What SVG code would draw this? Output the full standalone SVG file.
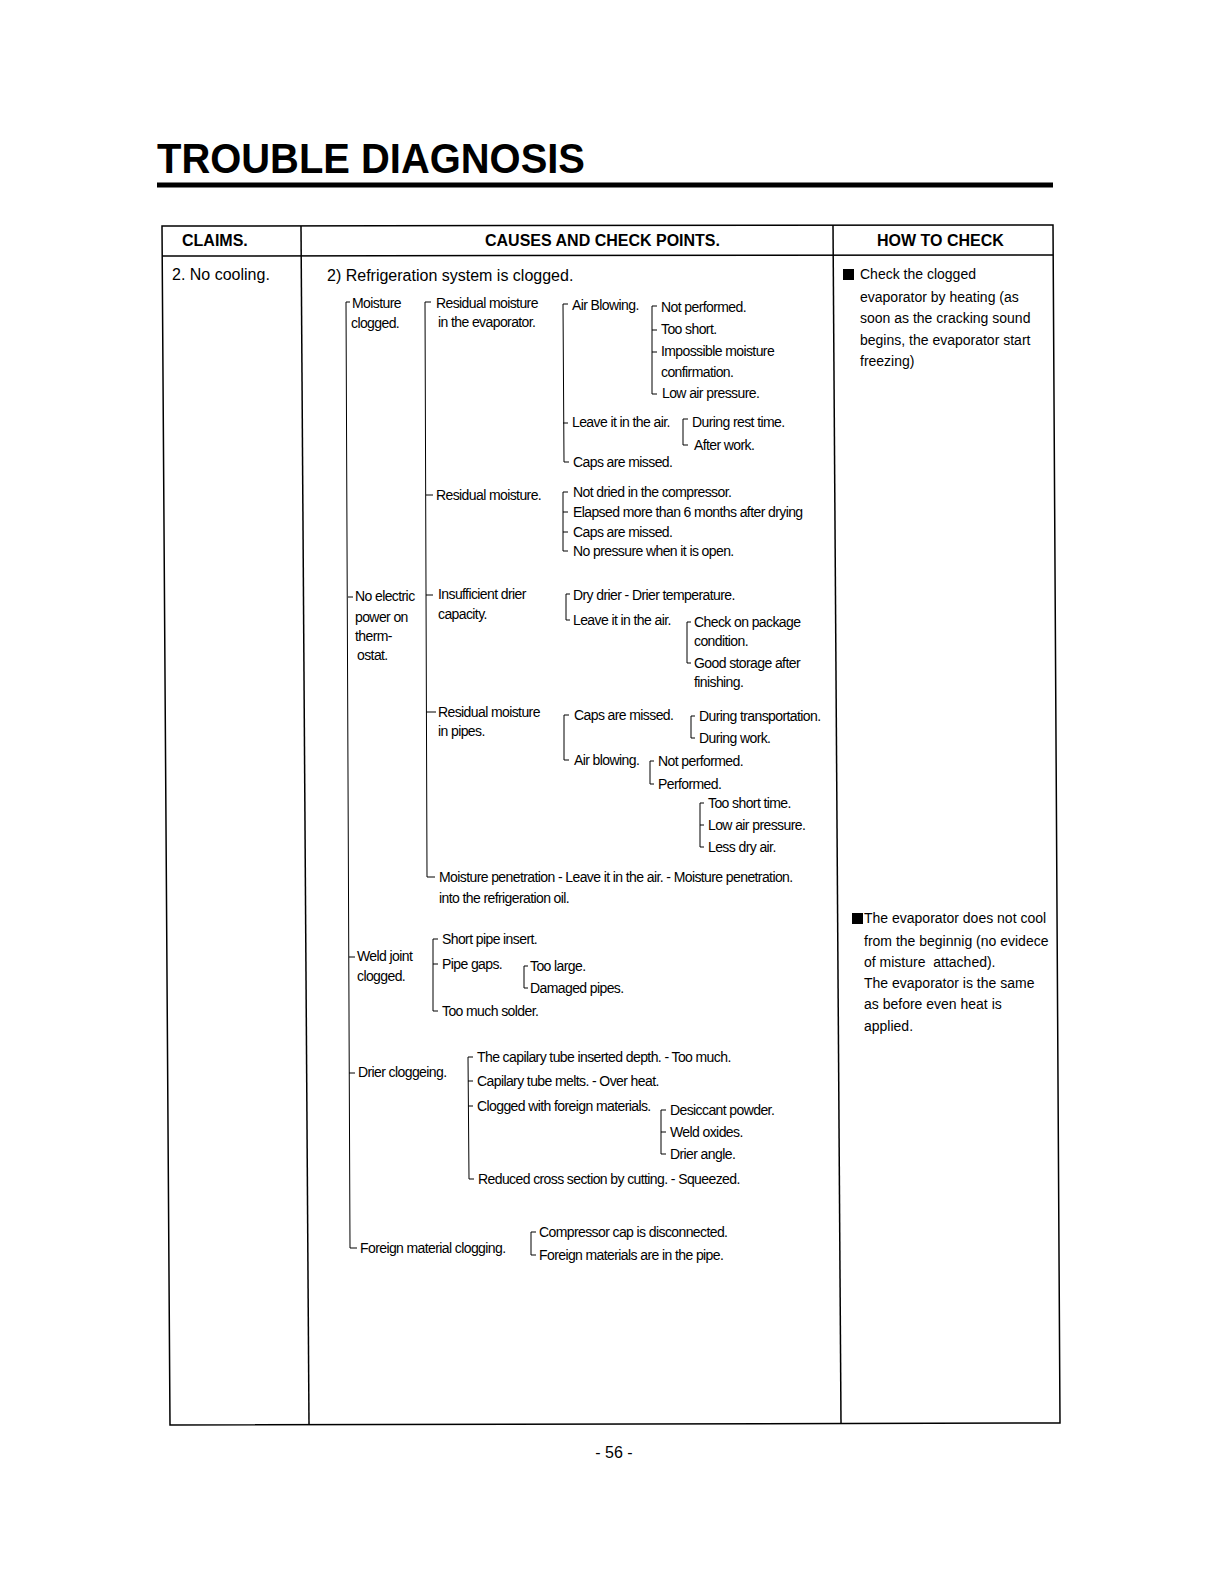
<svg xmlns="http://www.w3.org/2000/svg" width="1226" height="1588" viewBox="0 0 1226 1588">
<style>
text { font-family: "Liberation Sans", Arial, sans-serif; fill: #000; }
.tt { font-size: 42px; font-weight: bold; }
.hd { font-size: 16px; font-weight: bold; }
.bd { font-size: 16px; }
.tr { font-size: 14px; letter-spacing: -0.6px; }
.rc { font-size: 14px; white-space: pre; }
.ln { stroke: #000; stroke-width: 1; fill: none; }
.tb { stroke: #000; stroke-width: 1.5; fill: none; }
</style>
<rect width="1226" height="1588" fill="#fff"/>
<g id="title">
<text class="tt" x="157" y="173" textLength="428" lengthAdjust="spacingAndGlyphs">TROUBLE DIAGNOSIS</text>
<rect x="157" y="182.5" width="896" height="5" fill="#000"/>
</g>
<g id="table">
<path class="tb" d="M162,226 L1053,225 L1060,1423 L170,1425 Z"/>
<path class="tb" d="M162,256 L1053,255"/>
<path class="tb" d="M301,226 L309,1424"/>
<path class="tb" d="M833,225 L841,1423"/>
<text class="hd" x="182" y="246">CLAIMS.</text>
<text class="hd" x="485" y="246">CAUSES AND CHECK POINTS.</text>
<text class="hd" x="877" y="246">HOW TO CHECK</text>
<text class="bd" x="172" y="280">2. No cooling.</text>
<text class="bd" x="327" y="281">2) Refrigeration system is clogged.</text>
</g>
<g id="connectors">
<path class="ln" d="M350,302 H346 L350,1248 H357 M348,597 H353 M349,957 H355 M349,1073 H355"/>
<path class="ln" d="M431,302 H425 L427,877 H435 M426,495 H433 M426,595 H433 M426,712 H436"/>
<path class="ln" d="M568,304 H563 L564,462 H569 M563,423 H568"/>
<path class="ln" d="M657,306 H652 V394 H657 M652,330 H657 M652,352 H657"/>
<path class="ln" d="M688,419 H683 V445 H688"/>
<path class="ln" d="M568,492 H563 V551 H568 M563,512 H568 M563,532 H568"/>
<path class="ln" d="M570,594 H566 V620 H570"/>
<path class="ln" d="M691,622 H687 V663 H691"/>
<path class="ln" d="M569,715 H564 V760 H569"/>
<path class="ln" d="M695,716 H691 V738 H695"/>
<path class="ln" d="M654,761 H650 V784 H654"/>
<path class="ln" d="M704,803 H700 V847 H704 M700,825 H704"/>
<path class="ln" d="M438,939 H433 V1011 H438 M433,964 H438"/>
<path class="ln" d="M528,966 H524 V988 H528"/>
<path class="ln" d="M473,1057 H468 L469,1179 H474 M468,1081 H473 M468,1106 H473"/>
<path class="ln" d="M666,1110 H661 V1154 H666 M661,1132 H666"/>
<path class="ln" d="M536,1232 H531 V1255 H536"/>
</g>
<g id="n-moisture"><text class="tr" x="352" y="308">Moisture</text><text class="tr" x="351" y="328">clogged.</text></g>
<g id="n-noelectric"><text class="tr" x="355" y="601">No electric</text><text class="tr" x="355" y="622">power on</text><text class="tr" x="355" y="641">therm-</text><text class="tr" x="357" y="660">ostat.</text></g>
<g id="n-weld"><text class="tr" x="357" y="961">Weld joint</text><text class="tr" x="357" y="981">clogged.</text></g>
<g id="n-drier"><text class="tr" x="358" y="1077">Drier cloggeing.</text></g>
<g id="n-foreign"><text class="tr" x="360" y="1253">Foreign material clogging.</text></g>
<g id="n-resevap"><text class="tr" x="436" y="308">Residual moisture</text><text class="tr" x="438" y="327">in the evaporator.</text></g>
<g id="n-airblow1"><text class="tr" x="572" y="310">Air Blowing.</text></g>
<g id="n-notperf1"><text class="tr" x="661" y="312">Not performed.</text></g>
<g id="n-tooshort"><text class="tr" x="661" y="334">Too short.</text></g>
<g id="n-impossible"><text class="tr" x="661" y="356">Impossible moisture</text><text class="tr" x="661" y="377">confirmation.</text></g>
<g id="n-lowair1"><text class="tr" x="662" y="398">Low air pressure.</text></g>
<g id="n-leave1"><text class="tr" x="572" y="427">Leave it in the air.</text></g>
<g id="n-rest"><text class="tr" x="692" y="427">During rest time.</text></g>
<g id="n-afterwork"><text class="tr" x="694" y="450">After work.</text></g>
<g id="n-caps1"><text class="tr" x="573" y="467">Caps are missed.</text></g>
<g id="n-resmoist"><text class="tr" x="436" y="500">Residual moisture.</text></g>
<g id="n-notdried"><text class="tr" x="573" y="497">Not dried in the compressor.</text></g>
<g id="n-elapsed"><text class="tr" x="573" y="517">Elapsed more than 6 months after drying</text></g>
<g id="n-caps2"><text class="tr" x="573" y="537">Caps are missed.</text></g>
<g id="n-nopress"><text class="tr" x="573" y="556">No pressure when it is open.</text></g>
<g id="n-insuff"><text class="tr" x="438" y="599">Insufficient drier</text><text class="tr" x="438" y="619">capacity.</text></g>
<g id="n-drydrier"><text class="tr" x="573" y="600">Dry drier - Drier temperature.</text></g>
<g id="n-leave2"><text class="tr" x="573" y="625">Leave it in the air.</text></g>
<g id="n-package"><text class="tr" x="694" y="627">Check on package</text><text class="tr" x="694" y="646">condition.</text></g>
<g id="n-storage"><text class="tr" x="694" y="668">Good storage after</text><text class="tr" x="694" y="687">finishing.</text></g>
<g id="n-respipes"><text class="tr" x="438" y="717">Residual moisture</text><text class="tr" x="438" y="736">in pipes.</text></g>
<g id="n-caps3"><text class="tr" x="574" y="720">Caps are missed.</text></g>
<g id="n-transport"><text class="tr" x="699" y="721">During transportation.</text></g>
<g id="n-duringwork"><text class="tr" x="699" y="743">During work.</text></g>
<g id="n-airblow2"><text class="tr" x="574" y="765">Air blowing.</text></g>
<g id="n-notperf2"><text class="tr" x="658" y="766">Not performed.</text></g>
<g id="n-perf"><text class="tr" x="658" y="789">Performed.</text></g>
<g id="n-shorttime"><text class="tr" x="708" y="808">Too short time.</text></g>
<g id="n-lowair2"><text class="tr" x="708" y="830">Low air pressure.</text></g>
<g id="n-lessdry"><text class="tr" x="708" y="852">Less dry air.</text></g>
<g id="n-penetration"><text class="tr" x="439" y="882">Moisture penetration - Leave it in the air. - Moisture penetration.</text><text class="tr" x="439" y="903">into the refrigeration oil.</text></g>
<g id="n-shortpipe"><text class="tr" x="442" y="944">Short pipe insert.</text></g>
<g id="n-pipegaps"><text class="tr" x="442" y="969">Pipe gaps.</text></g>
<g id="n-toolarge"><text class="tr" x="530" y="971">Too large.</text></g>
<g id="n-damaged"><text class="tr" x="530" y="993">Damaged pipes.</text></g>
<g id="n-solder"><text class="tr" x="442" y="1016">Too much solder.</text></g>
<g id="n-depth"><text class="tr" x="477" y="1062">The capilary tube inserted depth. - Too much.</text></g>
<g id="n-melts"><text class="tr" x="477" y="1086">Capilary tube melts. - Over heat.</text></g>
<g id="n-cloggedfm"><text class="tr" x="477" y="1111">Clogged with foreign materials.</text></g>
<g id="n-desiccant"><text class="tr" x="670" y="1115">Desiccant powder.</text></g>
<g id="n-oxides"><text class="tr" x="670" y="1137">Weld oxides.</text></g>
<g id="n-angle"><text class="tr" x="670" y="1159">Drier angle.</text></g>
<g id="n-reduced"><text class="tr" x="478" y="1184">Reduced cross section by cutting. - Squeezed.</text></g>
<g id="n-compcap"><text class="tr" x="539" y="1237">Compressor cap is disconnected.</text></g>
<g id="n-fmpipe"><text class="tr" x="539" y="1260">Foreign materials are in the pipe.</text></g>
<g id="howto1">
<rect x="843" y="269" width="11" height="11" fill="#000"/>
<text class="rc" x="860" y="279">Check the clogged</text>
<text class="rc" x="860" y="302">evaporator by heating (as</text>
<text class="rc" x="860" y="323">soon as the cracking sound</text>
<text class="rc" x="860" y="345">begins, the evaporator start</text>
<text class="rc" x="860" y="366">freezing)</text>
</g>
<g id="howto2">
<rect x="852" y="913" width="11" height="11" fill="#000"/>
<text class="rc" x="864" y="923">The evaporator does not cool</text>
<text class="rc" x="864" y="946">from the beginnig (no evidece</text>
<text class="rc" x="864" y="967" xml:space="preserve">of misture  attached).</text>
<text class="rc" x="864" y="988">The evaporator is the same</text>
<text class="rc" x="864" y="1009">as before even heat is</text>
<text class="rc" x="864" y="1031">applied.</text>
</g>
<g id="page"><text class="bd" x="614" y="1458" text-anchor="middle">- 56 -</text></g>
</svg>
